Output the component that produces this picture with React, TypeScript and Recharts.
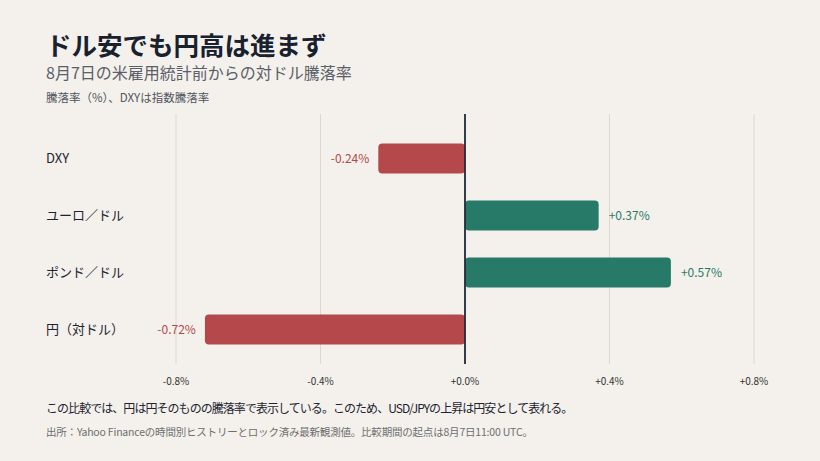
import React from 'react'
import {
  BarChart,
  Bar,
  XAxis,
  YAxis,
  CartesianGrid,
  ReferenceLine,
  LabelList,
  Cell,
} from 'recharts'

const categories = ['DXY', 'ユーロ／ドル', 'ポンド／ドル', '円（対ドル）']
const changes = [-0.24, 0.37, 0.57, -0.72]
const xTicks = [-0.8, -0.4, 0, 0.4, 0.8]

const data = categories.map((name, i) => ({ name, value: changes[i] }))

const RED = '#b4484a'
const GREEN = '#287a68'
const FONT = '"Noto Sans CJK JP", "Noto Sans", sans-serif'

const tickFmt = (v: number) => (v >= 0 ? '+' : '') + v.toFixed(1) + '%'

function ValueLabel(props: any) {
  const { x, y, width, height, value } = props
  const left = Math.min(x, x + width)
  const right = Math.max(x, x + width)
  const neg = value < 0
  return (
    <text
      x={neg ? left - 9 : right + 10}
      y={y + height / 2}
      dy="0.35em"
      textAnchor={neg ? 'end' : 'start'}
      fill={neg ? RED : GREEN}
      fontSize={12}
      fontFamily={FONT}
    >
      {(value > 0 ? '+' : '') + value.toFixed(2) + '%'}
    </text>
  )
}

function CategoryTick(props: any) {
  const { y, payload } = props
  return (
    <text x={46} y={y} dy="0.35em" textAnchor="start" fill="#1d2430" fontSize={13} fontFamily={FONT}>
      {payload.value}
    </text>
  )
}

document.body.style.margin = '0'

export default function App() {
  return (
    <div style={{ position: 'relative', width: 820, height: 461, background: '#f4f1ec', fontFamily: FONT, overflow: 'hidden' }}>
      <div style={{ position: 'absolute', left: 46, top: 31, fontSize: 25.5, fontWeight: 700, color: '#18212d', lineHeight: 1 }}>
        ドル安でも円高は進まず
      </div>
      <div style={{ position: 'absolute', left: 46, top: 64, fontSize: 16, color: '#5b6068', lineHeight: 1 }}>
        8月7日の米雇用統計前からの対ドル騰落率
      </div>
      <div style={{ position: 'absolute', left: 46, top: 92, fontSize: 11.5, color: '#50555c', lineHeight: 1 }}>
        騰落率（%）、DXYは指数騰落率
      </div>
      <div style={{ position: 'absolute', left: 0, top: 0 }}>
        <BarChart
          width={820}
          height={461}
          data={data}
          layout="vertical"
          margin={{ top: 114, right: 66, bottom: 67, left: 0 }}
        >
          <CartesianGrid horizontal={false} stroke="#dcd8d1" />
          <XAxis
            type="number"
            domain={[-0.8, 0.8]}
            ticks={xTicks}
            tickFormatter={tickFmt}
            axisLine={false}
            tickLine={false}
            tickMargin={8}
            height={30}
            tick={{ fontSize: 10, fill: '#333', fontFamily: FONT }}
          />
          <YAxis
            type="category"
            dataKey="name"
            width={176}
            axisLine={false}
            tickLine={false}
            padding={{ top: 15.5, bottom: 6.5 }}
            tick={<CategoryTick />}
          />
          <Bar dataKey="value" barSize={30} radius={4} isAnimationActive={false}>
            {data.map((d, i) => (
              <Cell key={i} fill={d.value < 0 ? RED : GREEN} />
            ))}
            <LabelList dataKey="value" content={<ValueLabel />} />
          </Bar>
          <ReferenceLine x={0} stroke="#1e2a3a" strokeWidth={1.8} />
        </BarChart>
      </div>
      <div style={{ position: 'absolute', left: 46, top: 402, fontSize: 12, color: '#1d2430', lineHeight: 1, letterSpacing: -0.95 }}>
        この比較では、円は円そのものの騰落率で表示している。このため、USD/JPYの上昇は円安として表れる。
      </div>
      <div style={{ position: 'absolute', left: 46, top: 427, fontSize: 10.5, color: '#6e6e6e', lineHeight: 1, letterSpacing: -0.2 }}>
        出所：Yahoo Financeの時間別ヒストリーとロック済み最新観測値。比較期間の起点は8月7日11:00 UTC。
      </div>
    </div>
  )
}
